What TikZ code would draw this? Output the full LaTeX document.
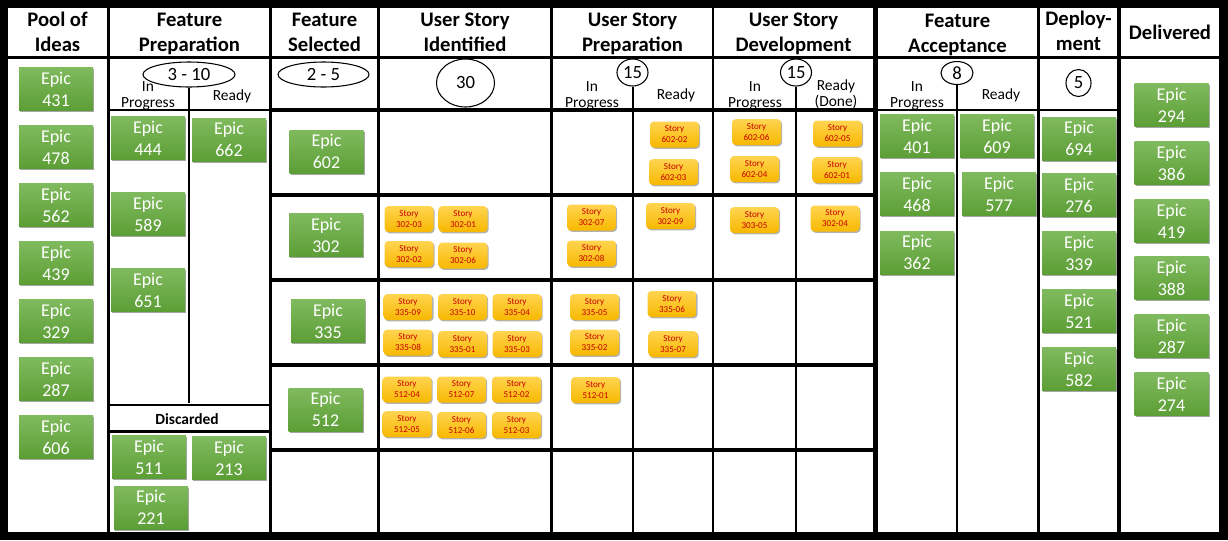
\documentclass[tikz,border=0pt]{standalone}
\usepackage{fontspec}
\setmainfont{Carlito}
\usetikzlibrary{shadows,shapes.geometric}
\definecolor{epictop}{RGB}{128,186,94}
\definecolor{epicbot}{RGB}{92,158,54}
\definecolor{storytop}{RGB}{255,212,80}
\definecolor{storybot}{RGB}{247,184,0}
\definecolor{storytext}{RGB}{200,0,0}
\tikzset{
  panel/.style={fill=white},
  hdr/.style={font=\fontsize{15.5}{18.75}\selectfont\bfseries, align=center, inner sep=0pt},
  epic/.style={minimum width=55.5pt, minimum height=32.25pt, inner sep=0pt,
    top color=epictop, bottom color=epicbot, text=white, align=center,
    font=\fontsize{13.5}{16.5}\selectfont,
    drop shadow={shadow xshift=1pt, shadow yshift=-1.2pt, opacity=0.35, fill=black}},
  story/.style={minimum width=36.75pt, minimum height=19.5pt, inner sep=0pt,
    rounded corners=3pt, top color=storytop, bottom color=storybot,
    text=storytext, align=center, font=\fontsize{6.8}{8.25}\selectfont,
    drop shadow={shadow xshift=0.9pt, shadow yshift=-1pt, opacity=0.3, fill=black}},
  wip/.style={ellipse, draw=black, line width=0.8pt, fill=white, inner sep=0pt,
    font=\fontsize{14}{16}\selectfont},
  sub/.style={align=center, font=\fontsize{11.6}{12}\selectfont, inner sep=0pt},
  sepline/.style={line width=2.6pt},
  midline/.style={line width=2pt},
  divline/.style={line width=1.5pt},
}
\begin{document}
\begin{tikzpicture}[x=0.75pt,y=-0.75pt]
\useasboundingbox (0,0) rectangle (1228,540);
\fill[black] (0,0) rectangle (1228,540);
% header panels
\foreach \a/\b in {8/107,110/269,272/377,380/550,553/712,714/873,878/1037,1040/1117,1121/1219}{
  \fill[panel] (\a,8) rectangle (\b,56);
  \fill[panel] (\a,59) rectangle (\b,532);
}
% header texts
\node[hdr] (h1) at (57.5,34.2) {\strut Pool of\\\strut Ideas};
\node[hdr] (h2) at (189.5,34.2) {\strut Feature\\\strut Preparation};
\node[hdr] (h3) at (324.5,34.2) {\strut Feature\\\strut Selected};
\node[hdr] (h4) at (465,34.2) {\strut User Story\\\strut Identified};
\node[hdr] (h5) at (632.5,34.2) {\strut User Story\\\strut Preparation};
\node[hdr] (h6) at (793.5,34.2) {\strut User Story\\\strut Development};
\node[hdr] (h7) at (957.5,34.8) {\strut Feature\\\strut Acceptance};
\node[hdr] (h8) at (1078.5,32.5) {\strut Deploy-\\\strut ment};
\node[hdr] (h9) at (1170,34.5) {\strut Delivered};

% separator lines
\foreach \yy in {110,195,280,365,450}{
  \draw[sepline] (272,\yy) -- (873,\yy);
}
\draw[midline] (110,110) -- (269,110);
\draw[midline] (878,110) -- (1117,110);
\draw[line width=1.5pt] (110,405) -- (269,405);
\draw[midline] (110,431.5) -- (269,431.5);

% bottom coordinates
\coordinate (b2) at (189,403);
\coordinate (b5) at (632.5,532);
\coordinate (b6) at (796,532);
\coordinate (b7) at (957,532);

% WIP limits
\node[wip, minimum width=69pt, minimum height=18.75pt] (w2) at (189,74.5) {3 - 10};
\node[wip, minimum width=68.25pt, minimum height=18.75pt] (w3) at (323.5,74.5) {2 - 5};
\node[wip, minimum width=43.5pt, minimum height=36pt] (w4) at (465.5,83) {30};
\node[wip, minimum width=23.25pt, minimum height=20.25pt] (w5) at (632.5,72.5) {15};
\node[wip, minimum width=23.25pt, minimum height=20.25pt] (w6) at (796,72.5) {15};
\node[wip, minimum width=24pt, minimum height=17.25pt] (w7) at (957,73) {8};
\node[wip, minimum width=18.75pt, minimum height=20.25pt] (w8) at (1078.5,83) {5};

\draw[divline] (w2.south) -- (b2);
\draw[divline] (w5.south) -- (b5);
\draw[divline] (w6.south) -- (b6);
\draw[divline] (w7.south) -- (b7);

% sub labels
\node[sub] (s2a) at (148,95.5) {In\\Progress};
\node[sub] (s2b) at (232,96) {Ready};
\node[sub] (s5a) at (592,95.5) {In\\Progress};
\node[sub] (s5b) at (676,95) {Ready};
\node[sub] (s6a) at (755,95.5) {In\\Progress};
\node[sub] (s6b) at (836,94.5) {Ready\\(Done)};
\node[sub] (s7a) at (917,95.5) {In\\Progress};
\node[sub] (s7b) at (1001,95) {Ready};
\node[font=\fontsize{11.6}{12}\selectfont\bfseries, inner sep=0pt] (disc) at (187,419) {Discarded};

% epics: pool
\foreach \n/\yy in {431/89,478/147,562/205,439/263,329/321,287/379,606/437}{
  \node[epic] (p\n) at (56,\yy) {Epic\\\n};
}
% feature preparation
\node[epic] (e444) at (148,138) {Epic\\444};
\node[epic] (e662) at (229,139.5) {Epic\\662};
\node[epic] (e589) at (148,214) {Epic\\589};
\node[epic] (e651) at (148,290) {Epic\\651};
\node[epic] (e511) at (149,457) {Epic\\511};
\node[epic] (e213) at (229,458) {Epic\\213};
\node[epic] (e221) at (151,507.5) {Epic\\221};
% feature selected
\node[epic] (e602) at (326.5,151.5) {Epic\\602};
\node[epic] (e302) at (326,235) {Epic\\302};
\node[epic] (e335) at (328,321) {Epic\\335};
\node[epic] (e512) at (325.5,409.5) {Epic\\512};
% feature acceptance
\node[epic] (e401) at (917,136) {Epic\\401};
\node[epic] (e609) at (997,136) {Epic\\609};
\node[epic] (e468) at (917,194) {Epic\\468};
\node[epic] (e577) at (999,194) {Epic\\577};
\node[epic] (e362) at (917,252.5) {Epic\\362};
% deployment
\foreach \n/\yy in {694/138.5,276/195,339/253,521/311,582/369}{
  \node[epic] (d\n) at (1079,\yy) {Epic\\\n};
}
% delivered
\foreach \n/\yy in {294/105,386/163,419/221,388/278,287/336,274/394}{
  \node[epic] (v\n) at (1171.5,\yy) {Epic\\\n};
}

% stories row 602
\node[story] (t60202) at (674.5,134.5) {Story\\602-02};
\node[story] (t60203) at (673.5,172) {Story\\602-03};
\node[story] (t60206) at (756.5,132) {Story\\602-06};
\node[story] (t60204) at (754.5,169) {Story\\602-04};
\node[story] (t60205) at (837.5,133.5) {Story\\602-05};
\node[story] (t60201) at (837,170) {Story\\602-01};
% row 302
\node[story] (t30203) at (409,219) {Story\\302-03};
\node[story] (t30201) at (463,219) {Story\\302-01};
\node[story] (t30202) at (409,254) {Story\\302-02};
\node[story] (t30206) at (463,255.5) {Story\\302-06};
\node[story] (t30207) at (591.5,217.5) {Story\\302-07};
\node[story] (t30208) at (591.5,253.5) {Story\\302-08};
\node[story] (t30209) at (670.5,216) {Story\\302-09};
\node[story] (t30305) at (754.5,220) {Story\\303-05};
\node[story] (t30204) at (835,218.5) {Story\\302-04};
% row 335
\node[story] (t33509) at (408,307) {Story\\335-09};
\node[story] (t33510) at (462.5,307) {Story\\335-10};
\node[story] (t33504) at (517,307) {Story\\335-04};
\node[story] (t33508) at (408,342.5) {Story\\335-08};
\node[story] (t33501) at (462.5,344) {Story\\335-01};
\node[story] (t33503) at (517,344) {Story\\335-03};
\node[story] (t33505) at (594.5,307) {Story\\335-05};
\node[story] (t33502) at (594.5,342.5) {Story\\335-02};
\node[story] (t33506) at (672,304) {Story\\335-06};
\node[story] (t33507) at (673,344) {Story\\335-07};
% row 512
\node[story] (t51204) at (407,389.5) {Story\\512-04};
\node[story] (t51207) at (461.5,389.5) {Story\\512-07};
\node[story] (t51202) at (516.5,389.5) {Story\\512-02};
\node[story] (t51205) at (407,424) {Story\\512-05};
\node[story] (t51206) at (461.5,425) {Story\\512-06};
\node[story] (t51203) at (516.5,425) {Story\\512-03};
\node[story] (t51201) at (595.5,390) {Story\\512-01};
\end{tikzpicture}
\end{document}
